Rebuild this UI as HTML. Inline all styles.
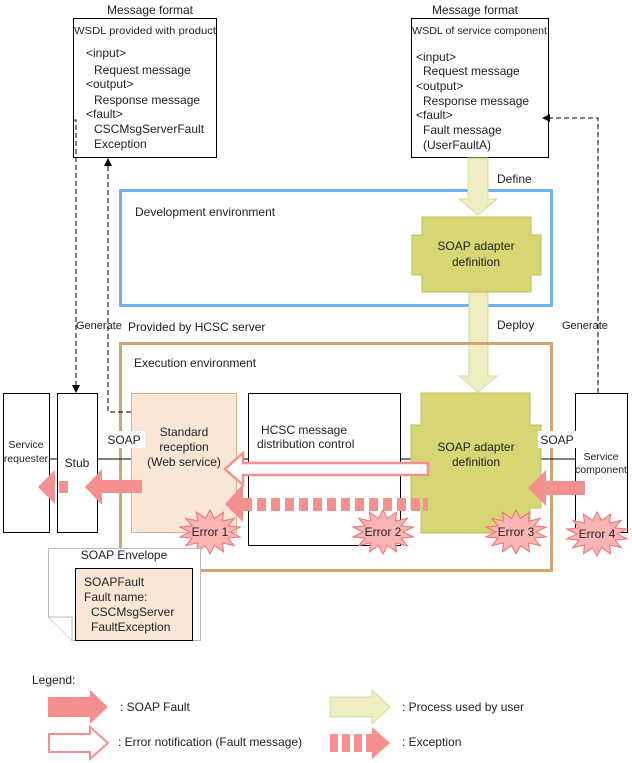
<!DOCTYPE html>
<html><head><meta charset="utf-8"><style>
html,body{margin:0;padding:0;background:#fff}
svg{display:block}
text{font-family:"Liberation Sans",Arial,sans-serif;fill:#222}
</style></head><body>
<svg id="s" width="632" height="763" viewBox="0 0 632 763" xmlns="http://www.w3.org/2000/svg">
<defs>
<marker id="ah" markerWidth="8" markerHeight="8" refX="7" refY="4" orient="auto" markerUnits="userSpaceOnUse"><path d="M0,0 L8,4 L0,8 Z" fill="#000"/></marker>
</defs>
<text x="150" y="14" font-size="12" text-anchor="middle">Message format</text>
<rect x="73.5" y="18.5" width="143" height="139" fill="#fff" stroke="#000"/>
<g font-size="12">
<text x="74" y="34" font-size="10.5" textLength="142" lengthAdjust="spacingAndGlyphs">WSDL provided with product</text>
<text x="86" y="57">&lt;input&gt;</text>
<text x="94" y="74">Request message</text>
<text x="86" y="88">&lt;output&gt;</text>
<text x="94" y="104">Response message</text>
<text x="86" y="118">&lt;fault&gt;</text>
<text x="94" y="133">CSCMsgServerFault</text>
<text x="94" y="148">Exception</text>
</g>
<text x="475" y="14" font-size="12" text-anchor="middle">Message format</text>
<rect x="411.5" y="18.5" width="137" height="139" fill="#fff" stroke="#000"/>
<g font-size="12">
<text x="412" y="34" font-size="10.5" textLength="135" lengthAdjust="spacingAndGlyphs">WSDL of service component</text>
<text x="416" y="61">&lt;input&gt;</text>
<text x="423" y="75">Request message</text>
<text x="416" y="90">&lt;output&gt;</text>
<text x="423" y="105">Response message</text>
<text x="416" y="119">&lt;fault&gt;</text>
<text x="423" y="134">Fault message</text>
<text x="423" y="149">(UserFaultA)</text>
</g>
<rect x="120.5" y="190.5" width="431" height="115" fill="none" stroke="#6fb3f0" stroke-width="3"/>
<text x="135" y="216" font-size="12">Development environment</text>
<text x="497" y="183" font-size="12">Define</text>
<text x="497" y="329" font-size="12">Deploy</text>
<text x="76" y="329" font-size="11">Generate</text>
<text x="562" y="329" font-size="11">Generate</text>
<text x="128" y="331" font-size="12">Provided by HCSC server</text>
<path d="M468,158 H488 V199 H497 L478,215 L459,199 H468 Z" fill="#eeeec0" stroke="#d8d8a0"/>
<path d="M469,292 H488 V376 H497 L478,392 L459,376 H469 Z" fill="#eeeec0" stroke="#d8d8a0"/>
<path d="M422,217 H531 V235 H541 V275 H531 V292 H422 V275 H412 V235 H422 Z" fill="#d6d675" stroke="#bcbc55"/>
<text x="476" y="250" font-size="12" text-anchor="middle">SOAP adapter</text>
<text x="476" y="266" font-size="12" text-anchor="middle">definition</text>
<rect x="120.5" y="343.5" width="431" height="227" fill="none" stroke="#d4a373" stroke-width="3"/>
<text x="134" y="367" font-size="12">Execution environment</text>
<path d="M50,459 H57 M97,459 H131 M236,459 H248 M400,459 H411 M541,459 H575" stroke="#000"/>
<rect x="3.5" y="393.5" width="46" height="139" fill="#fff" stroke="#000"/>
<text x="26" y="448" font-size="10.5" text-anchor="middle">Service</text>
<text x="26" y="462" font-size="10.5" text-anchor="middle">requester</text>
<rect x="57.5" y="393.5" width="40" height="139" fill="#fff" stroke="#000"/>
<text x="77" y="467" font-size="12" text-anchor="middle">Stub</text>
<rect x="131.5" y="393.5" width="105" height="139" fill="#f8e6d6" stroke="#e0b080"/>
<text x="184" y="436" font-size="12" text-anchor="middle">Standard</text>
<text x="184" y="451" font-size="12" text-anchor="middle">reception</text>
<text x="184" y="466" font-size="12" text-anchor="middle">(Web service)</text>
<rect x="103" y="431" width="42" height="17" fill="#fff"/>
<text x="124" y="444" font-size="12" text-anchor="middle">SOAP</text>
<rect x="248.5" y="393.5" width="152" height="152" fill="#fff" stroke="#000"/>
<text x="261" y="434" font-size="12">HCSC message</text>
<text x="257" y="448" font-size="12">distribution control</text>
<path d="M421,393 H530 V425 H541 V508 H530 V533 H421 V508 H411 V425 H421 Z" fill="#d6d675" stroke="#bcbc55"/>
<text x="476" y="451" font-size="12" text-anchor="middle">SOAP adapter</text>
<text x="476" y="466" font-size="12" text-anchor="middle">definition</text>
<rect x="575.5" y="393.5" width="52" height="139" fill="#fff" stroke="#000"/>
<text x="601" y="460" font-size="10.5" text-anchor="middle">Service</text>
<text x="601" y="473" font-size="10.5" text-anchor="middle">component</text>
<rect x="538" y="431" width="39" height="17" fill="#fff"/>
<text x="557" y="444" font-size="12" text-anchor="middle">SOAP</text>
<path d="M73,120 H76 V392" fill="none" stroke="#000" stroke-dasharray="5,3" marker-end="url(#ah)"/>
<path d="M131,412 H108 V159" fill="none" stroke="#000" stroke-dasharray="5,3" marker-end="url(#ah)"/>
<path d="M598,393 V118 H543" fill="none" stroke="#000" stroke-dasharray="5,3" marker-end="url(#ah)"/>
<path d="M428,463 V475 H243 V485 L225,469 L243,453 V463 Z" fill="#fff" stroke="#f49090" stroke-width="2.5"/>
<g fill="#f49090">
<path d="M243,484 L225,504 L243,522 Z"/>
<rect x="243" y="498" width="9" height="13"/><rect x="257" y="498" width="9" height="13"/><rect x="271" y="498" width="9" height="13"/><rect x="285" y="498" width="9" height="13"/><rect x="299" y="498" width="9" height="13"/><rect x="313" y="498" width="9" height="13"/><rect x="327" y="498" width="9" height="13"/><rect x="341" y="498" width="9" height="13"/><rect x="355" y="498" width="9" height="13"/><rect x="369" y="498" width="9" height="13"/><rect x="383" y="498" width="9" height="13"/><rect x="397" y="498" width="9" height="13"/><rect x="411" y="498" width="9" height="13"/><rect x="423" y="498" width="5" height="13"/>
<path d="M142,480 V493 H102 V505 L85,487 L102,469 V480 Z"/>
<path d="M55,470 L38,487 L55,504 Z"/><rect x="59" y="481" width="9" height="12"/>
<path d="M585,481 V495 H546 V506 L528,488 L546,470 V481 Z"/>
</g>
<g id="bursts" fill="#f9b4b4" stroke="#f07070"></g>
<g font-size="12">
<text x="210" y="536" text-anchor="middle">Error 1</text>
<text x="383" y="536" text-anchor="middle">Error 2</text>
<text x="516" y="536" text-anchor="middle">Error 3</text>
<text x="597" y="538" text-anchor="middle">Error 4</text>
</g>
<path d="M48.5,548.5 H200.5 V640.5 H72 L48.5,617 Z" fill="#fff" stroke="#bbb"/>
<path d="M48.5,617 H72 V640.5" fill="#fff" stroke="#bbb"/>
<text x="124" y="559" font-size="12" text-anchor="middle">SOAP Envelope</text>
<rect x="75.5" y="568.5" width="117" height="72" fill="#f8e6d6" stroke="#000"/>
<g font-size="12">
<text x="84" y="586">SOAPFault</text>
<text x="84" y="601">Fault name:</text>
<text x="91" y="616">CSCMsgServer</text>
<text x="91" y="631">FaultException</text>
</g>
<text x="32" y="684" font-size="12">Legend:</text>
<path d="M48,697 H90 V690 L108,707 L90,724 V717 H48 Z" fill="#f49090"/>
<text x="120" y="711" font-size="12">: SOAP Fault</text>
<path d="M330,697 H372 V690 L390,707 L372,724 V717 H330 Z" fill="#eeeec0" stroke="#d8d8a0"/>
<text x="402" y="711" font-size="12">: Process used by user</text>
<path d="M49,734 H90 V727 L108,743 L90,759 V752 H49 Z" fill="#fff" stroke="#f49090" stroke-width="2"/>
<text x="118" y="746" font-size="12">: Error notification (Fault message)</text>
<g fill="#f49090"><rect x="330" y="734" width="8" height="18"/><rect x="342" y="734" width="8" height="18"/><rect x="354" y="734" width="8" height="18"/><rect x="366" y="734" width="6" height="18"/><path d="M372,727 L390,743 L372,759 Z"/></g>
<text x="402" y="746" font-size="12">: Exception</text>
</svg>
<script>
var g=document.getElementById('bursts');
[[210,532],[383,532],[516,532],[597,534]].forEach(function(c){
 var p=[],n=14;for(var i=0;i<2*n;i++){var a=Math.PI*i/n-Math.PI/2;var rx=i%2?20:31,ry=i%2?14:22;p.push((c[0]+rx*Math.cos(a)).toFixed(1)+','+(c[1]+ry*Math.sin(a)).toFixed(1));}
 var e=document.createElementNS('http://www.w3.org/2000/svg','polygon');e.setAttribute('points',p.join(' '));g.appendChild(e);
});
</script>
</body></html>
